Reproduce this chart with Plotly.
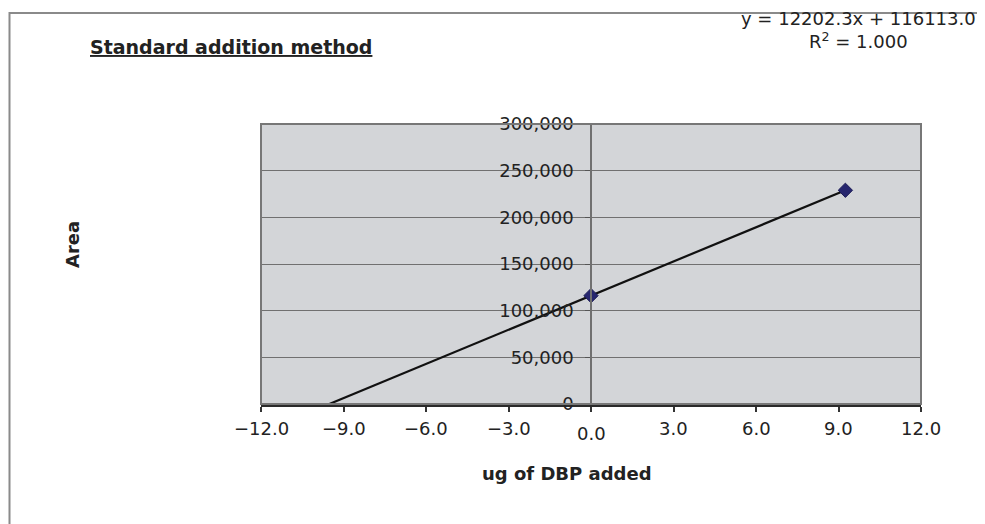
import numpy as np
import plotly.graph_objects as go

# ---- data ----
ug_added = [0.0, 9.25]          # ug of DBP added
area = [116113.0, 228984.0]     # peak area
x_ticks = [-12, -9, -6, -3, 0, 3, 6, 9, 12]
y_ticks = [0, 50000, 100000, 150000, 200000, 250000, 300000]
title_text = "Standard addition method"
x_title = "ug of DBP added"
y_title = "Area"

# ---- linear fit (trendline, extrapolated back to the x-intercept) ----
m, b = np.polyfit(ug_added, area, 1)
pred = np.polyval([m, b], ug_added)
ss_res = float(np.sum((np.array(area) - pred) ** 2))
ss_tot = float(np.sum((np.array(area) - np.mean(area)) ** 2))
r2 = 1 - ss_res / ss_tot if ss_tot else 1.0
x_int = -b / m
trend_x = [x_int, max(ug_added)]
trend_y = list(np.polyval([m, b], trend_x))

FONT = "DejaVu Sans, Verdana, sans-serif"
TXT = "#222222"

fig = go.Figure()
fig.add_trace(go.Scatter(x=trend_x, y=trend_y, mode="lines",
                         line=dict(color="#111111", width=2.2),
                         showlegend=False, hoverinfo="skip"))
fig.add_trace(go.Scatter(x=ug_added, y=area, mode="markers",
                         marker=dict(symbol="diamond", size=11, color="#26266e",
                                     line=dict(color="#1a1a55", width=1)),
                         showlegend=False))

def fmt_x(v):
    s = f"{abs(v):.1f}"
    return ("\u2212" + s) if v < 0 else s

annotations = []
for v in x_ticks:
    annotations.append(dict(x=v, xref="x", y=0, yref="paper", text=fmt_x(v),
                            showarrow=False, yanchor="middle",
                            yshift=-(29 if v == 0 else 24),
                            font=dict(family=FONT, size=18, color=TXT)))

annotations += [
    dict(x=(88 - 261) / 660, xref="paper", y=(404 - 47) / 280, yref="paper",
         xanchor="left", yanchor="middle", showarrow=False,
         text="<u><b>" + title_text + "</b></u>",
         font=dict(family=FONT, size=19, color=TXT)),
    dict(x=(858 - 261) / 660, xref="paper", y=(404 - 30) / 280, yref="paper",
         xanchor="center", yanchor="middle", showarrow=False, align="center",
         text=f"y = {m:.1f}x + {b:.1f}<br>R<sup>2</sup> = {r2:.3f}",
         font=dict(family=FONT, size=18, color=TXT)),
    dict(x=(567 - 261) / 660, xref="paper", y=(404 - 473) / 280, yref="paper",
         xanchor="center", yanchor="middle", showarrow=False,
         text="<b>" + x_title + "</b>",
         font=dict(family=FONT, size=18, color=TXT)),
    dict(x=(72 - 261) / 660, xref="paper", y=(404 - 245) / 280, yref="paper",
         xanchor="center", yanchor="middle", showarrow=False, textangle=-90,
         text="<b>" + y_title + "</b>",
         font=dict(family=FONT, size=18, color=TXT)),
]

shapes = [
    # outer chart border (only top/left visible in the reference)
    dict(type="rect", xref="paper", yref="paper",
         x0=(9.5 - 261) / 660, x1=(995 - 261) / 660,
         y0=(404 - 535) / 280, y1=(404 - 13) / 280,
         line=dict(color="#8a8a8a", width=2), layer="below"),
    # plot area frame
    dict(type="rect", xref="x domain", yref="y domain", x0=0, x1=1, y0=0, y1=1,
         line=dict(color="#777777", width=2), layer="above"),
]

# page body has an 8px default margin, so the figure is offset by 8px
fig.update_layout(
    width=977, height=516,
    margin=dict(l=253, r=64, t=116, b=120),
    paper_bgcolor="white",
    plot_bgcolor="#d3d5d8",
    font=dict(family=FONT, size=18, color=TXT),
    xaxis=dict(range=[-12, 12], tickvals=x_ticks, showticklabels=False,
               ticks="outside", ticklen=5, tickwidth=1.5, tickcolor="#333333",
               showgrid=False, zeroline=False,
               showline=True, linecolor="#2a2a2a", linewidth=2.5),
    yaxis=dict(range=[0, 300000], tickvals=y_ticks, tickformat=",d",
               anchor="free", position=0.5, side="left",
               ticks="outside", ticklen=5, tickwidth=1.2, tickcolor="#555555",
               ticklabelstandoff=8,
               showgrid=True, gridcolor="#707070", gridwidth=1.2,
               zeroline=False, showline=True, linecolor="#707070", linewidth=1.5,
               tickfont=dict(family=FONT, size=18, color=TXT)),
    annotations=annotations,
    shapes=shapes,
)

fig.write_html("out.html")
